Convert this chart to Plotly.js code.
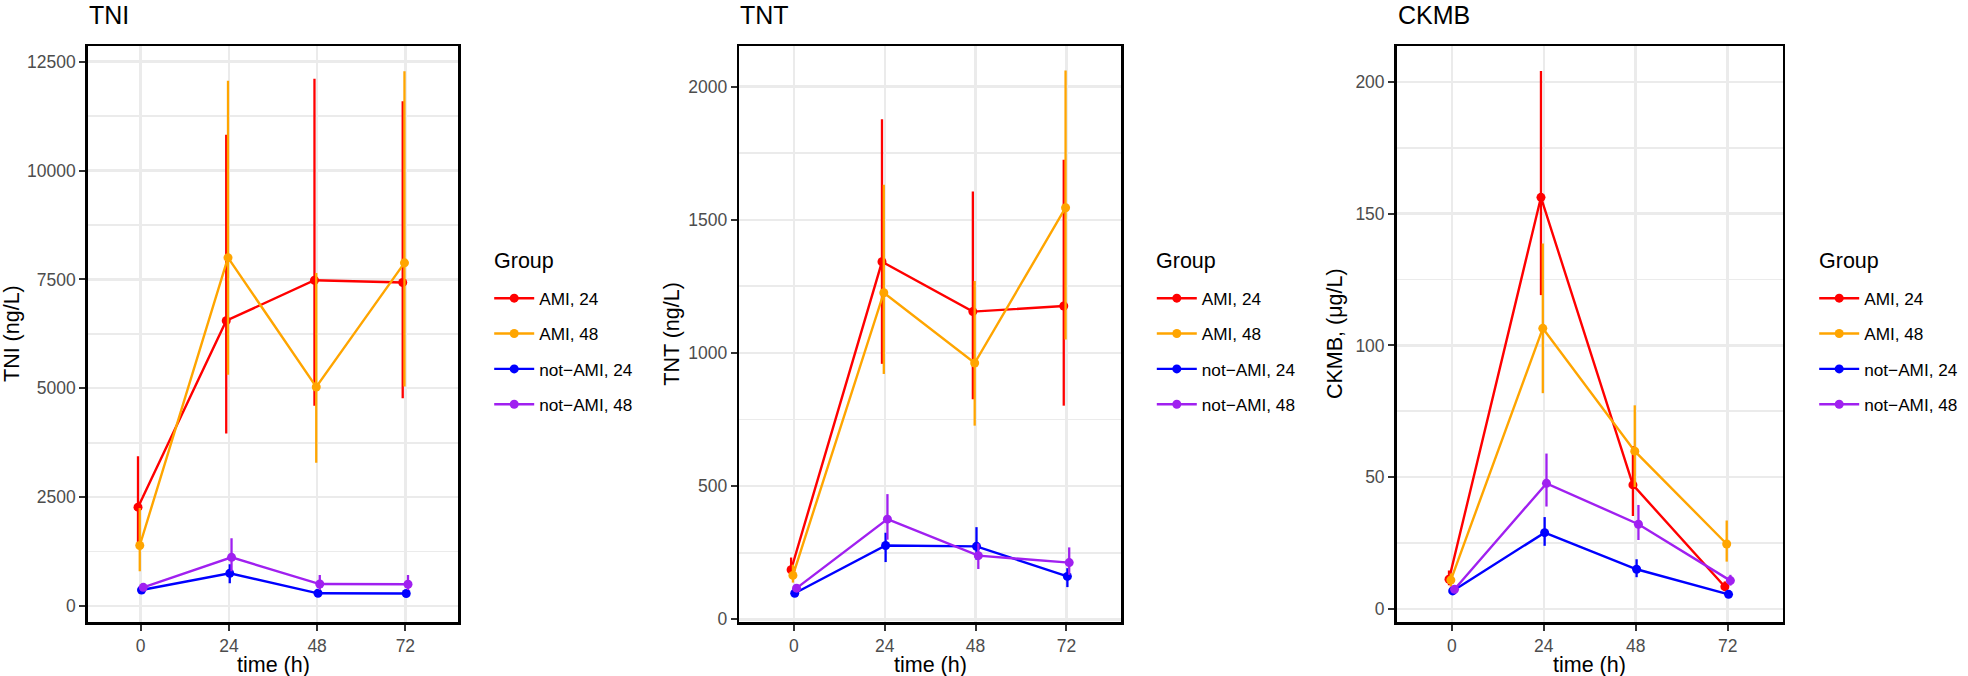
<!DOCTYPE html>
<html>
<head>
<meta charset="utf-8">
<script src="https://cdn.plot.ly/plotly-3.0.1.min.js"></script>
<style>html,body{margin:0;padding:0;background:#fff;}#chart{width:1968px;height:676px;}</style>
</head>
<body>
<div id="chart"></div>
<script>
// ---------------- data ----------------
const times = ['0', '24', '48', '72'];
const groups = ['AMI, 24', 'AMI, 48', 'not\u2212AMI, 24', 'not\u2212AMI, 48'];
const panels = ['TNI', 'TNT', 'CKMB'];
const yTitles = ['TNI (ng/L)', 'TNT (ng/L)', 'CKMB, (\u03bcg/L)'];
const legendTitle = 'Group';
const xTitle = 'time (h)';

// TNI (ng/L): centre, upper, lower
const tniAmi24 = [2270, 6550, 7480, 7430];
const tniAmi24Hi = [3440, 10820, 12110, 11590];
const tniAmi24Lo = [1450, 3960, 4600, 4770];
const tniAmi48 = [1390, 8000, 5030, 7880];
const tniAmi48Hi = [2250, 12060, 7650, 12280];
const tniAmi48Lo = [800, 5310, 3290, 5040];
const tniNot24 = [367, 751, 292, 288];
const tniNot24Hi = [450, 960, 340, 335];
const tniNot24Lo = [290, 521, 250, 248];
const tniNot48 = [429, 1118, 505, 500];
const tniNot48Hi = [520, 1555, 712, 712];
const tniNot48Lo = [350, 800, 370, 370];

// TNT (ng/L)
const tntAmi24 = [186, 1342, 1155, 1176];
const tntAmi24Hi = [232, 1877, 1606, 1725];
const tntAmi24Lo = [160, 959, 826, 802];
const tntAmi48 = [165, 1226, 962, 1545];
const tntAmi48Hi = [205, 1631, 1270, 2060];
const tntAmi48Lo = [138, 921, 727, 1050];
const tntNot24 = [98, 277, 274, 161];
const tntNot24Hi = [112, 325, 346, 192];
const tntNot24Lo = [86, 215, 224, 121];
const tntNot48 = [117, 376, 239, 213];
const tntNot48Hi = [132, 470, 285, 270];
const tntNot48Lo = [104, 299, 189, 167];

// CKMB (ug/L)
const ckAmi24 = [11.3, 156.2, 47.1, 8.5];
const ckAmi24Hi = [14.6, 204.1, 61.8, 10.5];
const ckAmi24Lo = [9.0, 119.1, 35.3, 6.8];
const ckAmi48 = [11.0, 106.5, 59.9, 24.7];
const ckAmi48Hi = [13.5, 138.7, 77.3, 33.6];
const ckAmi48Lo = [8.5, 81.9, 46.3, 18.0];
const ckNot24 = [6.9, 29.0, 15.1, 5.6];
const ckNot24Hi = [7.8, 34.9, 18.9, 6.5];
const ckNot24Lo = [6.0, 24.0, 12.1, 4.8];
const ckNot48 = [7.5, 47.7, 32.2, 10.8];
const ckNot48Hi = [8.5, 59.0, 39.5, 13.0];
const ckNot48Lo = [6.6, 38.9, 26.2, 8.9];

// ---------------- styling ----------------
const colors = ['#FF0000', '#FFA500', '#0000FF', '#A020F0'];
const dodge = [-0.03, -0.01, 0.01, 0.03];
const FONT = 'Liberation Sans, Arial, Helvetica, sans-serif';
const W = 1968, H = 676;

const panelData = [
  [[tniAmi24, tniAmi24Hi, tniAmi24Lo], [tniAmi48, tniAmi48Hi, tniAmi48Lo], [tniNot24, tniNot24Hi, tniNot24Lo], [tniNot48, tniNot48Hi, tniNot48Lo]],
  [[tntAmi24, tntAmi24Hi, tntAmi24Lo], [tntAmi48, tntAmi48Hi, tntAmi48Lo], [tntNot24, tntNot24Hi, tntNot24Lo], [tntNot48, tntNot48Hi, tntNot48Lo]],
  [[ckAmi24, ckAmi24Hi, ckAmi24Lo], [ckAmi48, ckAmi48Hi, ckAmi48Lo], [ckNot24, ckNot24Hi, ckNot24Lo], [ckNot48, ckNot48Hi, ckNot48Lo]]
];

// layout geometry (pixels)
const plotX = [[87.7, 458.3], [739.3, 1121.0], [1396.6, 1782.8]];
const plotTop = 46, plotBottom = 622;
const yRanges = [[-367, 12860], [-10, 2152], [-4.9, 213.6]];
const yDtick = [2500, 500, 50];
const yTitleX = [12, 671.7, 1335];
const legendTitleX = [491.7, 1154.3, 1816.7];

const traces = [];
panelData.forEach((pd, p) => {
  const ax = p === 0 ? '' : String(p + 1);
  pd.forEach((g, k) => {
    const [mid, hi, lo] = g;
    traces.push({
      type: 'scatter',
      mode: 'lines+markers',
      x: times.map((t, i) => i + dodge[k]),
      y: mid,
      name: groups[k],
      xaxis: 'x' + ax,
      yaxis: 'y' + ax,
      legend: 'legend' + ax,
      legendgroup: 'p' + p + 'g' + k,
      line: {color: colors[k], width: 2.4},
      marker: {color: colors[k], size: 9},
      error_y: {
        type: 'data', symmetric: false,
        array: hi.map((v, i) => v - mid[i]),
        arrayminus: mid.map((v, i) => v - lo[i]),
        color: colors[k], thickness: 2.3, width: 0
      },
      hoverinfo: 'skip'
    });
  });
});

const layout = {
  width: W, height: H,
  margin: {l: 0, r: 0, t: 0, b: 0},
  paper_bgcolor: '#fff', plot_bgcolor: '#fff',
  font: {family: FONT, color: '#000'},
  showlegend: true,
  annotations: []
};

const yDom = [(H - plotBottom) / H, (H - plotTop) / H];
panelData.forEach((pd, p) => {
  const ax = p === 0 ? '' : String(p + 1);
  layout['xaxis' + ax] = {
    domain: [plotX[p][0] / W, plotX[p][1] / W],
    anchor: 'y' + ax,
    range: [-0.6, 3.6],
    tickmode: 'array', tickvals: times.map((t, i) => i), ticktext: times,
    showgrid: true, gridcolor: '#EBEBEB', gridwidth: 2.4,
    zeroline: false,
    showline: true, mirror: true, linecolor: '#000', linewidth: 2.5,
    ticks: 'outside', ticklen: 6, tickwidth: 2, tickcolor: '#333',
    tickfont: {family: FONT, size: 17.5, color: '#4D4D4D'},
    fixedrange: true
  };
  layout['yaxis' + ax] = {
    domain: yDom,
    anchor: 'x' + ax,
    range: yRanges[p],
    tick0: 0, dtick: yDtick[p], tickformat: 'd',
    showgrid: true, gridcolor: '#EBEBEB', gridwidth: 2.4,
    minor: {dtick: yDtick[p] / 2, showgrid: true, gridcolor: '#EBEBEB', gridwidth: 1.8, ticks: ''},
    zeroline: false,
    showline: true, mirror: true, linecolor: '#000', linewidth: 2.5,
    ticks: 'outside', ticklen: 6, tickwidth: 2, tickcolor: '#333',
    tickfont: {family: FONT, size: 17.5, color: '#4D4D4D'},
    fixedrange: true
  };
  layout['legend' + ax] = {
    x: (legendTitleX[p] - 2.5) / W, xanchor: 'left',
    y: 1 - 280.5 / H, yanchor: 'top',
    itemwidth: 40,
    font: {family: FONT, size: 17.2, color: '#000'},
    bgcolor: 'rgba(0,0,0,0)', borderwidth: 0,
    traceorder: 'grouped', tracegroupgap: 10
  };
  // legend title
  layout.annotations.push({
    text: legendTitle, xref: 'paper', yref: 'paper',
    x: legendTitleX[p] / W, xanchor: 'left',
    y: 1 - 261 / H, yanchor: 'middle',
    showarrow: false, font: {family: FONT, size: 21.5, color: '#000'}
  });
  // panel title
  layout.annotations.push({
    text: panels[p], xref: 'paper', yref: 'paper',
    x: (plotX[p][0] - 1) / W, xanchor: 'left',
    y: 1 - 15 / H, yanchor: 'middle',
    showarrow: false, font: {family: FONT, size: 25, color: '#000'}
  });
  // x title
  layout.annotations.push({
    text: xTitle, xref: 'paper', yref: 'paper',
    x: (plotX[p][0] + plotX[p][1]) / 2 / W, xanchor: 'center',
    y: 1 - 665 / H, yanchor: 'middle',
    showarrow: false, font: {family: FONT, size: 21.5, color: '#000'}
  });
  // y title
  layout.annotations.push({
    text: yTitles[p], xref: 'paper', yref: 'paper',
    x: yTitleX[p] / W, xanchor: 'center',
    y: 1 - (plotTop + plotBottom) / 2 / H, yanchor: 'middle',
    textangle: -90,
    showarrow: false, font: {family: FONT, size: 21.5, color: '#000'}
  });
});

Plotly.newPlot('chart', traces, layout, {displayModeBar: false, staticPlot: true});
</script>
</body>
</html>
